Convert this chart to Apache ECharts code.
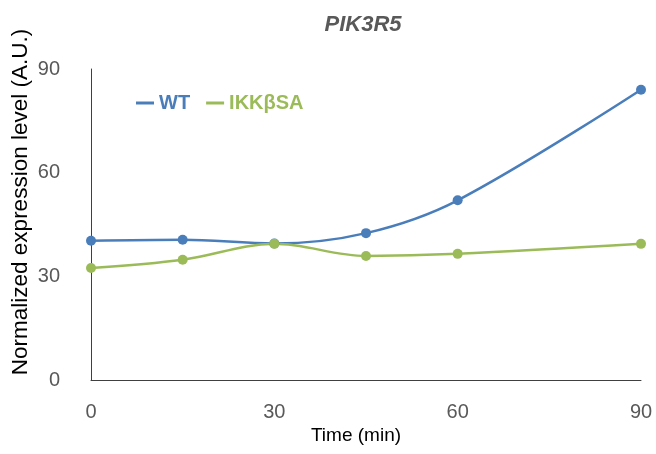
<!DOCTYPE html>
<html><head><meta charset="utf-8">
<script src="https://cdn.jsdelivr.net/npm/echarts@6/dist/echarts.min.js"></script>
<style>html,body{margin:0;padding:0;background:#fff}#c{width:656px;height:454px}</style>
</head><body><div id="c"></div>
<script>
const times = [0, 15, 30, 45, 60, 90];
const wtValues = [40.3, 40.6, 39.5, 42.5, 52, 84];
const ikkValues = [32.4, 34.8, 39.4, 35.9, 36.5, 39.4];
const yTicks = [0, 30, 60, 90];
const xTicks = [0, 30, 60, 90];
const seriesNames = ['WT', 'IKKβSA'];
const colors = ['#4A7EBB', '#9BBB59'];
const narrow = '"Liberation Sans Narrow", "Arial Narrow", "Liberation Sans", sans-serif';

const chart = echarts.init(document.getElementById('c'), null, {renderer: 'canvas'});
const pair = (xs, ys) => xs.map((x, i) => [x, ys[i]]);
chart.setOption({
  animation: false,
  backgroundColor: '#fff',
  title: {
    text: 'PIK3R5', left: 358, top: 9, textAlign: 'center',
    textStyle: {fontFamily: narrow, fontStyle: 'italic', fontWeight: 'bold', fontSize: 22, color: '#595959'}
  },
  legend: {
    left: 131, top: 88, itemGap: 16, itemWidth: 18, itemHeight: 3, icon: 'rect',
    data: seriesNames.map((n, i) => ({name: n, textStyle: {color: colors[i]}})),
    textStyle: {fontFamily: narrow, fontWeight: 'bold', fontSize: 20, padding: [0, 0, 0, 0]}
  },
  grid: {left: 91, right: 15, top: 69, bottom: 74, containLabel: false},
  xAxis: {
    type: 'value', min: 0, max: 90, interval: 30,
    axisLine: {show: true, lineStyle: {color: '#404040', width: 1}},
    axisTick: {show: false}, splitLine: {show: false},
    axisLabel: {margin: 22, fontFamily: narrow, fontSize: 20, color: '#595959',
      customValues: xTicks}
  },
  yAxis: {
    type: 'value', min: 0, max: 90, interval: 30,
    axisLine: {show: true, lineStyle: {color: '#404040', width: 1}},
    axisTick: {show: false}, splitLine: {show: false},
    axisLabel: {margin: 31, fontFamily: narrow, fontSize: 20, color: '#595959',
      customValues: yTicks}
  },
  graphic: [{
    type: 'text', x: 21, y: 202, rotation: Math.PI / 2,
    style: {text: 'Normalized expression level (A.U.)', fontFamily: '"Liberation Sans", Arial, sans-serif',
      fontSize: 22.5, fill: '#000', align: 'center', verticalAlign: 'middle'}
  }, {
    type: 'text', x: 356, y: 436,
    style: {text: 'Time (min)', fontFamily: narrow, fontSize: 19, fill: '#000',
      align: 'center', verticalAlign: 'middle'}
  }],
  series: [
    {name: seriesNames[0], type: 'line', smooth: 0.35, data: pair(times, wtValues),
      symbol: 'circle', symbolSize: 10, lineStyle: {width: 2.5, color: colors[0]},
      itemStyle: {color: colors[0]}},
    {name: seriesNames[1], type: 'line', smooth: 0.35, data: pair(times, ikkValues),
      symbol: 'circle', symbolSize: 10, lineStyle: {width: 2.5, color: colors[1]},
      itemStyle: {color: colors[1]}}
  ]
});
</script></body></html>
